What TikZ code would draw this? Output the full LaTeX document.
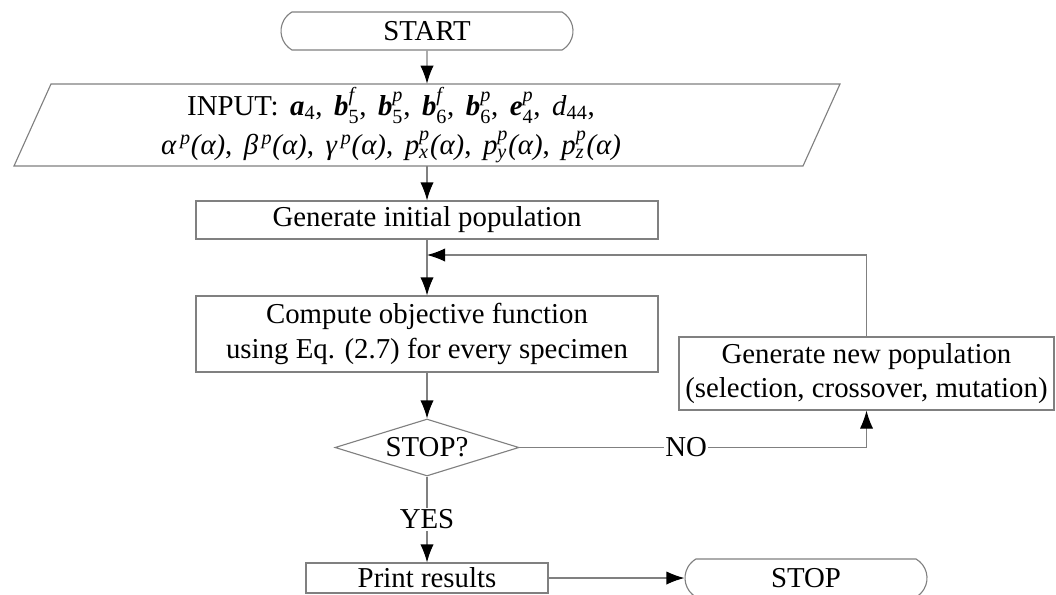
\documentclass[tikz,border=0pt]{standalone}
\usepackage{amsmath}
\usepackage{fontspec}
\setmainfont{Liberation Serif}
\usepackage{tikz}
\usetikzlibrary{arrows.meta,shapes.geometric,shapes.misc,positioning,calc}
\definecolor{linegray}{RGB}{128,128,128}
\newcommand{\px}{0.025cm}
\newcommand{\bv}[1]{\textbf{\textit{#1}}}
\newcommand{\ix}[1]{\text{\itshape #1}}
\newcommand{\sv}[3]{$\bv{#1}_{\text{#2}}^{\ix{#3}}$}
\newcommand{\gap}{\hspace{0.4em}}
\tikzstyle{box}=[rectangle,draw=linegray,line width=0.8pt,inner sep=0pt,align=center]
\tikzstyle{terminal}=[rounded rectangle,rounded rectangle arc length=120,draw=linegray,line width=0.8pt,inner sep=0pt,minimum height=38*\px]
\tikzstyle{decision}=[diamond,aspect=3.2,draw=linegray,line width=0.8pt,inner sep=0pt,minimum width=184*\px,minimum height=57*\px]
\tikzstyle{wire}=[draw=linegray,line width=0.8pt]
\tikzstyle{flow}=[wire,-{Latex[black,length=0.45cm,width=0.33cm]}]
\tikzstyle{tag}=[fill=white,inner sep=1pt]

\begin{document}
\begin{tikzpicture}[x=0.025cm,y=-0.025cm,font=\fontsize{20.5}{24}\selectfont]
  \useasboundingbox (0,0) rectangle (1056,594);

  \node[terminal,minimum width=292*\px] (start) at (427,31) {START};
  \node[align=center,inner sep=0pt,minimum height=82*\px] (input) at (391,125)
    {INPUT:\gap $\bv{a}_{\text{4}}$,\gap \sv{b}{5}{f},\gap \sv{b}{5}{p},\gap
     \sv{b}{6}{f},\gap \sv{b}{6}{p},\gap \sv{e}{4}{p},\gap \textit{d}$_{\text{44}}$,\\[4pt]
     \textit{α}$^{\,\ix{p}}$\textit{(α)},\gap \textit{β}$^{\,\ix{p}}$\textit{(α)},\gap
     \textit{γ}$^{\,\ix{p}}$\textit{(α)},\gap \textit{p}$_{\ix{x}}^{\ix{p}}$\textit{(α)},\gap
     \textit{p}$_{\ix{y}}^{\ix{p}}$\textit{(α)},\gap \textit{p}$_{\ix{z}}^{\ix{p}}$\textit{(α)}};
  \draw[wire] (51,84) -- (840,84) -- (803,166) -- (14,166) -- cycle;
  \node[box,minimum width=462*\px,minimum height=38*\px] (geninit) at (427,220) {Generate initial population};
  \node[box,minimum width=462*\px,minimum height=76*\px] (compute) at (427,334)
    {Compute objective function\\[1pt]using Eq. (2.7) for every specimen};
  \node[decision] (check) at (427,447.5) {STOP?};
  \node[box,minimum width=375*\px,minimum height=73*\px] (gennew) at (866.5,373.5)
    {Generate new population\\(selection, crossover, mutation)};
  \node[box,minimum width=242*\px,minimum height=30*\px] (print) at (427,578) {Print results};
  \node[terminal,minimum width=242*\px] (stop) at (806,578) {STOP};
  \coordinate (loopin) at (427,255);

  \draw[flow] (start) -- (start |- input.north);
  \draw[flow] (start |- input.south) -- (geninit);
  \foreach \source/\dest in {geninit/compute, compute/check, print/stop}
    \draw[flow] (\source) -- (\dest);
  \draw[flow] (check) -- node[tag] {YES} (print);
  \draw[flow] (check) -| node[tag,pos=0.24] {NO} (gennew);
  \draw[flow] (gennew) |- (loopin);
\end{tikzpicture}
\end{document}
